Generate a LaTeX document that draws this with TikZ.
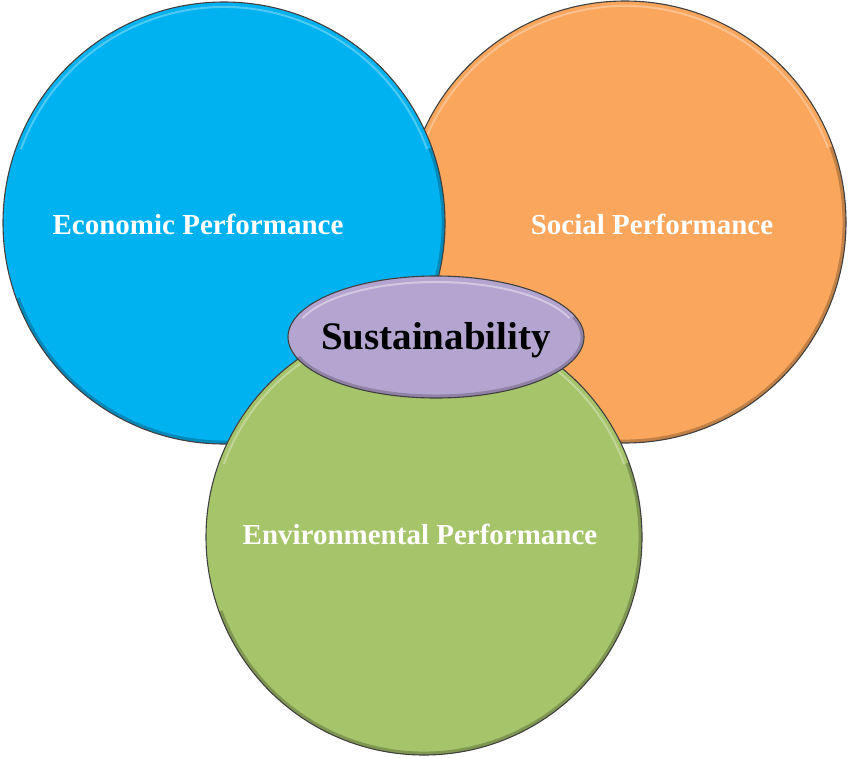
\documentclass[tikz,border=0pt]{standalone}
\usepackage{fontspec}
\setmainfont{Liberation Serif}
\usetikzlibrary{shapes.geometric}
\definecolor{ecoblue}{RGB}{0,178,240}
\definecolor{socorange}{RGB}{250,166,92}
\definecolor{envgreen}{RGB}{166,196,106}
\definecolor{suslav}{RGB}{180,164,208}
\tikzset{
  disc/.style n args={3}{circle, inner sep=0pt, minimum size=#1, fill=#2, draw=black!75, line width=1.1pt,
    path picture={
      \draw[line width=5pt, #2!55!black, opacity=0.5]
        (path picture bounding box.center) ++(-20:#1/2-1) arc[start angle=-20, end angle=160, radius=#1/2-1];
      \draw[line width=2pt, white, opacity=0.3]
        (path picture bounding box.center) ++(200:#1/2-5) arc[start angle=200, end angle=340, radius=#1/2-5];
    }},
  lbl/.style={text=white, inner sep=0pt, font=\fontsize{29}{34}\selectfont\bfseries},
}
\begin{document}
\begin{tikzpicture}[x=1pt,y=-1pt]
\useasboundingbox (0,0) rectangle (850,757);
\node[disc={442}{socorange}{}] (soc) at (625,222) {};
\node[disc={442}{ecoblue}{}] (eco) at (224,223) {};
\node[disc={436}{envgreen}{}] (env) at (424,537) {};
\node[ellipse, inner sep=0pt, minimum width=296, minimum height=122, fill=suslav, draw=black!75, line width=1.1pt,
  path picture={
    \draw[line width=5pt, suslav!55!black, opacity=0.45] (path picture bounding box.center) ++(-20:147 and 60) arc[start angle=-20, end angle=160, x radius=147, y radius=60];
    \draw[line width=2pt, white, opacity=0.4] (path picture bounding box.center) ++(200:142 and 55) arc[start angle=200, end angle=340, x radius=142, y radius=55];
  }] (sus) at (436,337) {};
\node[lbl] (ecot) at (198,224) {Economic Performance};
\node[lbl] (soct) at (652,224) {Social Performance};
\node[lbl] (envt) at (420,534) {Environmental Performance};
\node[inner sep=0pt, font=\fontsize{39}{44}\selectfont\bfseries] (sust) at (436,340) {Sustainability};
\end{tikzpicture}
\end{document}
